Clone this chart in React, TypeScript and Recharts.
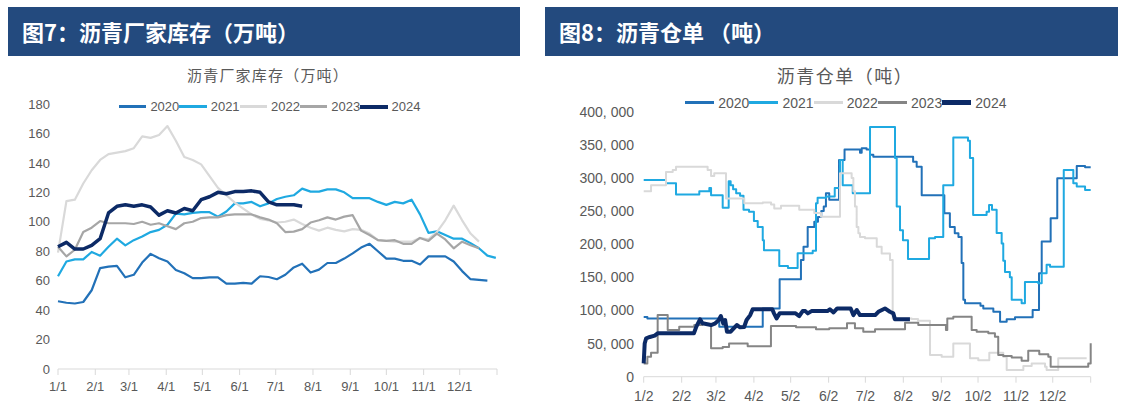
import React from 'react';
import { LineChart, Line, XAxis, YAxis, Legend } from 'recharts';

// ---------- Left chart: 沥青厂家库存（万吨）, weekly values ----------
const stockYears = ['2020', '2021', '2022', '2023', '2024'];
const stock2020 = [46, 45, 44.5, 45.5, 53.5, 68.5, 69.5, 70, 62.3, 64, 72.3, 78.2, 75.2, 73, 67.3, 65, 61.7, 61.7, 62.3, 62.3, 58, 58, 58.5, 58, 63, 62.5, 61, 64, 69, 71.5, 65.5, 67.5, 72, 72, 75, 78.5, 82.5, 85, 80, 75, 75, 73.5, 73.5, 71, 76.5, 76.5, 76.5, 73, 66.5, 61, 60.5, 60];
const stock2021 = [63, 73, 74.5, 74.5, 79.5, 77, 83, 88.5, 84, 87.5, 90, 93, 94.5, 98, 105.5, 105, 106, 106.5, 106.5, 103.5, 107, 112.5, 112.5, 113.5, 110.5, 112.5, 115.5, 117, 118, 122.5, 120.5, 120.5, 122, 122, 120, 116, 116, 116, 113.5, 111.5, 113.5, 112.5, 115, 105, 92.5, 93.5, 91, 88.5, 88.5, 85.5, 82, 77, 75.5];
const stock2022 = [79, 114, 115, 126, 135, 142, 146, 147, 148, 150, 158, 157, 159, 165, 155, 144, 142, 139, 131, 123, 118, 113, 109, 105, 102, 101, 99.5, 100, 101.5, 98.5, 96, 94, 96, 94.5, 93.5, 95, 94.5, 92, 87.5, 87, 86.5, 86.5, 86.5, 89, 88, 93, 101, 111, 101, 92, 86.5];
const stock2023 = [83, 76.5, 81, 93, 96, 100.5, 99, 99, 99, 98.5, 100, 98, 99, 97, 95, 99, 100, 102.5, 103, 103, 104.5, 105, 105, 105, 103, 101.5, 99, 93, 93.3, 95, 99.5, 101, 103, 101.5, 103.5, 104.5, 94, 91, 87.5, 87, 87.5, 85, 85, 89, 87, 92, 88, 82, 86.5, 84, 82];
const stock2024 = [83, 86, 81.5, 81.5, 84, 88.5, 106, 110.5, 111.5, 110.5, 111.5, 110, 104.5, 107.5, 106, 109, 107.5, 115, 117, 120, 119, 120.5, 120.5, 121, 120, 113.5, 111.5, 111.5, 111.5, 110.5];
const stockTicksY = [0, 20, 40, 60, 80, 100, 120, 140, 160, 180];
const stockTickDays = [0, 31, 59, 90, 120, 151, 181, 212, 243, 273, 304, 334, 365];
const stockTickLabels = ['1/1', '2/1', '3/1', '4/1', '5/1', '6/1', '7/1', '8/1', '9/1', '10/1', '11/1', '12/1', ''];

// ---------- Right chart: 沥青仓单（吨）, [day since 1/2, tonnes] change points ----------
const receiptYears = ['2020', '2021', '2022', '2023', '2024'];
const receipts2020: [number, number][] = [[0, 90000], [3, 88000], [61.7, 75500], [97.2, 103000], [111, 147000], [128.4, 176000], [130.5, 196000], [133.9, 226000], [139.3, 234000], [142.3, 241000], [145, 250000], [147, 257000], [148.8, 277000], [151.5, 267000], [159.5, 327000], [164, 343000], [176.6, 338000], [178, 345000], [182, 343000], [184.8, 335000], [187.5, 332000], [220, 324500], [222.9, 317000], [227, 274000], [245.5, 246600], [250, 226000], [254, 216500], [257, 211000], [259.6, 171500], [261, 116000], [262.4, 111000], [275, 107000], [277.3, 103000], [285.5, 98000], [291, 83000], [296.4, 86600], [303.2, 89600], [317.6, 100700], [322.8, 156000], [325, 204000], [332.3, 239000], [337.7, 299500], [353.6, 318000], [360.4, 316000], [365, 316000]];
const receipts2021: [number, number][] = [[0, 297000], [18.2, 292000], [26.4, 275000], [45.4, 280000], [53.6, 285000], [55, 274000], [64.5, 255000], [69.4, 295000], [71, 289000], [73, 283000], [75.5, 277000], [78.7, 273000], [81.5, 252000], [86, 249000], [90, 235000], [93.1, 226000], [97.2, 206000], [98.2, 191000], [110.7, 167000], [117.8, 164000], [125.7, 186500], [138, 190000], [140.7, 262000], [142, 270000], [149, 272000], [156, 285000], [160.3, 327000], [162.5, 289000], [170.7, 277000], [184.8, 377000], [204.4, 377000], [205.2, 330000], [206.6, 257000], [209.3, 221000], [211.7, 206000], [215.8, 177600], [233, 209000], [237.9, 211000], [244.6, 289000], [252.8, 361000], [262.4, 361000], [264.8, 356000], [266.4, 330000], [269, 244000], [280, 249000], [282, 259000], [284.4, 252000], [288.2, 217000], [292.3, 201000], [293.6, 175000], [295, 158000], [299, 150000], [300.5, 116000], [308.6, 111000], [311.3, 143000], [322.2, 141000], [325, 156000], [329, 169000], [331.8, 166000], [343, 312000], [350.8, 292000], [353.6, 287000], [360.4, 282000], [365, 282000]];
const receipts2022: [number, number][] = [[0, 280000], [6, 289000], [18.2, 309000], [23.7, 312000], [26.4, 317000], [52.2, 312000], [55, 303000], [57.6, 307000], [67.2, 269000], [82.1, 262000], [97.2, 263000], [104, 260000], [106.6, 254000], [112.1, 258000], [127, 252000], [139.3, 247000], [144.8, 241500], [160.3, 307000], [169.8, 300000], [171.2, 280000], [172.5, 257000], [173.9, 226000], [175.3, 216500], [176.6, 211000], [180.7, 209000], [190.3, 196000], [194.3, 186000], [201.1, 176000], [203.3, 88000], [218.8, 87000], [224, 84500], [233.8, 32700], [243.3, 30000], [252.8, 50300], [266.4, 27700], [273.2, 25000], [282.2, 36000], [293.6, 30000], [296.4, 10000], [310, 16000], [316.8, 20000], [327.7, 15000], [329, 10000], [338.5, 27700], [361.7, 27700]];
const receipts2023: [number, number][] = [[0, 20000], [3, 30000], [6, 36000], [11.4, 93000], [19.6, 70500], [29, 75500], [41.3, 78000], [48, 79500], [55, 43000], [64.5, 45000], [69.7, 50000], [84.9, 46000], [103.9, 76500], [124.4, 74500], [140.7, 71500], [151.5, 73000], [166, 80600], [172.5, 73000], [179.3, 68000], [188.9, 71500], [213.4, 81500], [224.2, 78000], [246.8, 70500], [247.9, 88000], [252.8, 90600], [267.8, 70500], [271.9, 68000], [281.4, 65500], [286.8, 60400], [289.5, 32700], [293.6, 31200], [300.5, 29000], [308.6, 24000], [314, 39000], [323, 34000], [330.4, 30000], [332.3, 15000], [363, 20000], [365, 50400]];
const receipts2024: [number, number][] = [[0, 20000], [0.8, 50000], [2, 58000], [5, 60000], [9, 62000], [11.4, 65500], [41, 65500], [43, 75500], [46, 86600], [48, 80600], [55, 78000], [58, 80000], [61, 85000], [63, 91600], [65, 80000], [66.5, 85600], [68, 68000], [71, 68000], [72.7, 71500], [76, 78000], [78.7, 74600], [82, 75000], [84, 85600], [87, 93000], [89, 101700], [105, 101700], [106.4, 95600], [108.5, 88000], [111, 95600], [124, 95600], [127, 91600], [129.8, 99000], [132, 99000], [134, 95600], [137, 99000], [150, 99000], [152, 101700], [155, 97000], [158, 103000], [169, 103000], [171.2, 93000], [174, 100700], [176.6, 93000], [189, 93000], [191.6, 98000], [197, 103000], [201, 98000], [203.8, 95600], [205.2, 86600], [217.4, 86600]];
const receiptTicksY = [0, 50000, 100000, 150000, 200000, 250000, 300000, 350000, 400000];
const receiptTickDays = [0, 31, 59, 90, 120, 151, 181, 212, 243, 273, 304, 334, 365];
const receiptTickLabels = ['1/2', '2/2', '3/2', '4/2', '5/2', '6/2', '7/2', '8/2', '9/2', '10/2', '11/2', '12/2', ''];

// ---------- styles ----------
const FONT_NUM = "'Liberation Sans Narrow', 'Liberation Sans', Arial, sans-serif";
const FONT_CJK = "'Noto Sans CJK SC', sans-serif";
const TEXT = '#595959';
const HEADER = '#234A7E';
const leftColors = ['#2271B8', '#1FA9E1', '#D9D9D9', '#A6A6A6', '#0C2A66'];
const leftWidths = [2.2, 2.2, 2.2, 2.2, 3.5];
const rightColors = ['#2271B8', '#1FA9E1', '#D9D9D9', '#858585', '#0C2A66'];
const rightWidths = [2, 2, 2, 2, 4];

const stockRows = stock2021.map((_, i) => ({
  day: i * 7,
  y2020: stock2020[i],
  y2021: stock2021[i],
  y2022: stock2022[i],
  y2023: stock2023[i],
  y2024: stock2024[i],
}));
const stockSeries = [stock2020, stock2021, stock2022, stock2023, stock2024];
const receiptSeries = [receipts2020, receipts2021, receipts2022, receipts2023, receipts2024].map((s) =>
  s.map(([day, v]) => ({ day, v }))
);

const makeLegend = (names: string[], colors: string[], widths: number[], step: number, lineW: number, fs: number) =>
  function LegendContent() {
    return (
      <div style={{ display: 'flex', alignItems: 'center', height: 14 }}>
        {names.map((n, i) => (
          <div key={n} style={{ display: 'flex', alignItems: 'center', width: step, flex: 'none' }}>
            <span style={{ display: 'inline-block', width: lineW, height: widths[i] + 0.6, background: colors[i], marginRight: 4 }} />
            <span style={{ fontFamily: FONT_NUM, fontSize: fs, color: TEXT, lineHeight: '14px' }}>{n}</span>
          </div>
        ))}
      </div>
    );
  };

const LeftLegend = makeLegend(stockYears, leftColors, leftWidths, 60.3, 28, 13);
const RightLegend = makeLegend(receiptYears, rightColors, rightWidths, 64.3, 30, 14);

const fmtTonnes = (v: number) => (v === 0 ? '0' : `${Math.round(v / 1000)}, 000`);

const Header = ({ left, width, text }: { left: number; width: number; text: string }) => (
  <div
    style={{
      position: 'absolute', left, top: 7, width, height: 49, background: HEADER, color: '#fff',
      fontFamily: FONT_CJK, fontWeight: 700, fontSize: 22, lineHeight: '49px', paddingLeft: 14, boxSizing: 'border-box',
      whiteSpace: 'pre',
    }}
  >
    {text}
  </div>
);

export default function App() {
  return (
    <div style={{ position: 'absolute', left: 0, top: 0, width: 1132, height: 406, background: '#fff', overflow: 'hidden' }}>
      <Header left={8} width={512} text="图7：沥青厂家库存（万吨）" />
      <Header left={545} width={573} text="图8：沥青仓单 （吨）" />

      <div style={{ position: 'absolute', left: 118, width: 300, top: 64, textAlign: 'center', fontFamily: FONT_CJK, fontSize: 15, letterSpacing: 1.2, color: TEXT, lineHeight: '22px' }}>
        沥青厂家库存（万吨）
      </div>
      <div style={{ position: 'absolute', left: 695, width: 300, top: 62, textAlign: 'center', fontFamily: FONT_CJK, fontSize: 18, letterSpacing: 1.5, color: TEXT, lineHeight: '26px' }}>
        沥青仓单（吨）
      </div>

      <div style={{ position: 'absolute', left: 0, top: 60 }}>
        <LineChart width={520} height={346} data={stockRows} margin={{ top: 44, right: 23, bottom: 7, left: 8 }}>
          <XAxis
            dataKey="day" type="number" domain={[0, 365]} ticks={stockTickDays} interval={0} height={30}
            tickFormatter={(v: number) => stockTickLabels[stockTickDays.indexOf(v)] ?? ''}
            axisLine={{ stroke: '#D9D9D9' }} tickLine={{ stroke: '#D9D9D9' }} tickSize={6} tickMargin={7}
            tick={{ fill: TEXT, fontSize: 13, fontFamily: FONT_NUM }}
          />
          <YAxis
            type="number" domain={[0, 180]} ticks={stockTicksY} interval={0} width={50}
            axisLine={false} tickLine={false} tickSize={6} tickMargin={2}
            tick={{ fill: TEXT, fontSize: 13, fontFamily: FONT_NUM }}
          />
          <Legend content={LeftLegend} layout="vertical" verticalAlign="middle" align="center" wrapperStyle={{ left: 119, top: 39.7 }} />
          {stockSeries.map((_, i) => (
            <Line
              key={stockYears[i]} name={stockYears[i]} dataKey={`y${stockYears[i]}`} type="linear"
              stroke={leftColors[i]} strokeWidth={leftWidths[i]} dot={false} isAnimationActive={false}
              strokeLinejoin="round"
            />
          ))}
        </LineChart>
      </div>

      <div style={{ position: 'absolute', left: 545, top: 60 }}>
        <LineChart width={573} height={346} margin={{ top: 51.7, right: 27.3, bottom: 5.3, left: 8.7 }}>
          <XAxis
            dataKey="day" type="number" domain={[0, 365]} ticks={receiptTickDays} interval={0} height={24}
            allowDuplicatedCategory={false}
            tickFormatter={(v: number) => receiptTickLabels[receiptTickDays.indexOf(v)] ?? ''}
            axisLine={{ stroke: '#D9D9D9' }} tickLine={{ stroke: '#D9D9D9' }} tickSize={6} tickMargin={8}
            tick={{ fill: TEXT, fontSize: 14, fontFamily: FONT_NUM }}
          />
          <YAxis
            type="number" domain={[0, 400000]} ticks={receiptTicksY} interval={0} width={90}
            axisLine={false} tickLine={false} tickSize={6} tickMargin={3.7} tickFormatter={fmtTonnes}
            tick={{ fill: TEXT, fontSize: 14, fontFamily: FONT_NUM }}
          />
          <Legend content={RightLegend} layout="vertical" verticalAlign="middle" align="center" wrapperStyle={{ left: 140, top: 35.7 }} />
          {receiptSeries.map((d, i) => (
            <Line
              key={receiptYears[i]} name={receiptYears[i]} data={d} dataKey="v"
              type={i === 4 ? 'linear' : 'stepAfter'}
              stroke={rightColors[i]} strokeWidth={rightWidths[i]} dot={false} isAnimationActive={false}
              strokeLinejoin="round"
            />
          ))}
        </LineChart>
      </div>
    </div>
  );
}
